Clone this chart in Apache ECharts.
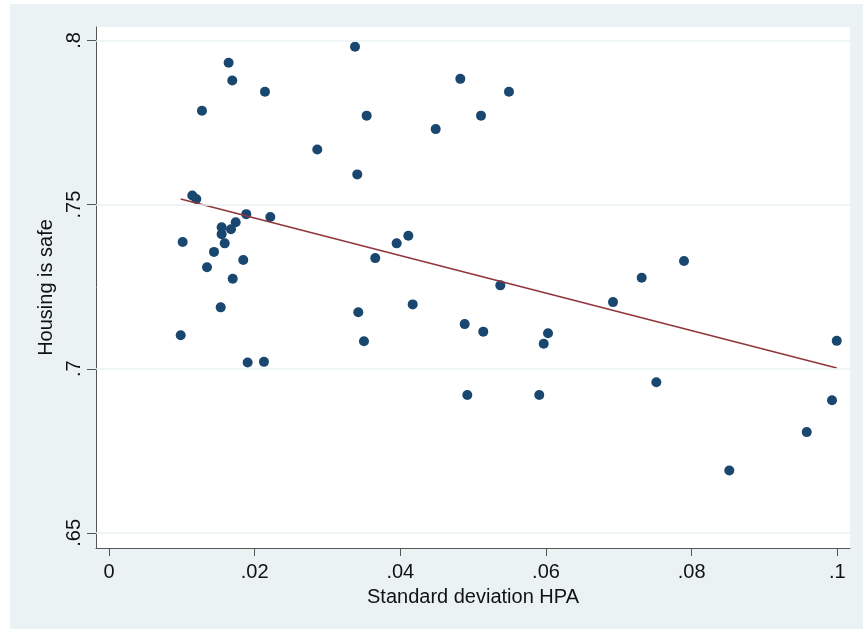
<!DOCTYPE html>
<html>
<head>
<meta charset="utf-8">
<script src="https://cdn.jsdelivr.net/npm/echarts@6/dist/echarts.min.js"></script>
<style>
html,body{margin:0;padding:0;background:#ffffff;}
#chart{position:absolute;left:10px;top:4px;width:853px;height:625px;}
</style>
</head>
<body>
<div id="chart"></div>
<script>
// Standard deviation HPA (x) vs Housing is safe (y)
const sdHPA = [0.01144,0.01199,0.01547,0.01547,0.01589,0.01675,0.0174,0.01885,0.02215,0.01012,
  0.01442,0.01346,0.01844,0.01699,0.01534,0.00985,0.01904,0.02128,0.0286,0.03409,
  0.0395,0.0411,0.03656,0.03423,0.03501,0.0417,0.03378,0.04824,0.05492,0.03538,
  0.05108,0.04486,0.01643,0.01693,0.01277,0.02142,0.05373,0.04884,0.05139,0.06028,
  0.05969,0.0692,0.07314,0.07895,0.0492,0.05908,0.07515,0.09992,0.09927,0.0958,0.08517];
const housingSafe = [0.7528,0.7517,0.7431,0.7410,0.7382,0.7425,0.7446,0.7471,0.7462,0.7386,
  0.7356,0.7309,0.7331,0.7274,0.7187,0.7102,0.7019,0.7021,0.7668,0.7592,
  0.7382,0.7405,0.7337,0.7172,0.7084,0.7196,0.7981,0.7883,0.7844,0.7771,
  0.7771,0.7730,0.7932,0.7878,0.7786,0.7844,0.7254,0.7136,0.7113,0.7108,
  0.7076,0.7203,0.7277,0.7328,0.6920,0.6920,0.6959,0.7085,0.6904,0.6807,0.6690];
// Fitted line endpoints
const fitX = [0.00985, 0.09992];
const fitY = [0.7517, 0.7002];
// Tick values
const xTicks = [0, 0.02, 0.04, 0.06, 0.08, 0.1];
const yTicks = [0.65, 0.7, 0.75, 0.8];

const fmt = v => {
  if (Math.abs(v) < 1e-9) return '0';
  return String(+v.toFixed(4)).replace(/^0\./, '.');
};
const FONT = "'Liberation Sans', Arial, sans-serif";
const chart = echarts.init(document.getElementById('chart'));
chart.setOption({
  backgroundColor: '#EAF2F3',
  animation: false,
  grid: {left: 86, top: 23, right: 13, bottom: 81, show: true, backgroundColor: '#ffffff', borderWidth: 0},
  xAxis: {
    type: 'value', min: -0.00178, max: 0.10174,
    name: 'Standard deviation HPA', nameLocation: 'middle', nameGap: 39,
    nameTextStyle: {fontFamily: FONT, fontSize: 20, color: '#111'},
    axisLine: {show: true, onZero: false, lineStyle: {color: '#555', width: 1}},
    axisTick: {show: true, length: 8, customValues: xTicks, lineStyle: {color: '#555'}},
    axisLabel: {customValues: xTicks, formatter: fmt, margin: 14, fontFamily: FONT, fontSize: 20, color: '#111'},
    splitLine: {show: false}
  },
  yAxis: {
    type: 'value', min: 0.6454, max: 0.8041,
    name: 'Housing is safe', nameLocation: 'middle', nameGap: 40,
    nameTextStyle: {fontFamily: FONT, fontSize: 20, color: '#111'},
    axisLine: {show: true, onZero: false, lineStyle: {color: '#555', width: 1}},
    axisTick: {show: true, length: 9, customValues: yTicks, lineStyle: {color: '#555'}},
    axisLabel: {customValues: yTicks, formatter: fmt, rotate: 90, margin: 12, fontFamily: FONT, fontSize: 20, color: '#111'},
    splitLine: {show: false}
  },
  series: [
    {
      type: 'line', data: [], z: 1, silent: true,
      markLine: {
        silent: true, symbol: 'none', animation: false,
        label: {show: false},
        lineStyle: {color: '#EAF2F3', width: 1.5, type: 'solid'},
        data: yTicks.map(v => ({yAxis: v}))
      }
    },
    {
      type: 'scatter', z: 3, symbol: 'circle', symbolSize: 10,
      itemStyle: {color: '#1A476F', opacity: 1},
      data: sdHPA.map((x, i) => [x, housingSafe[i]])
    },
    {
      type: 'line', z: 4, symbol: 'none', silent: true,
      lineStyle: {color: '#90353B', width: 1.5},
      data: fitX.map((x, i) => [x, fitY[i]])
    }
  ]
});
</script>
</body>
</html>
